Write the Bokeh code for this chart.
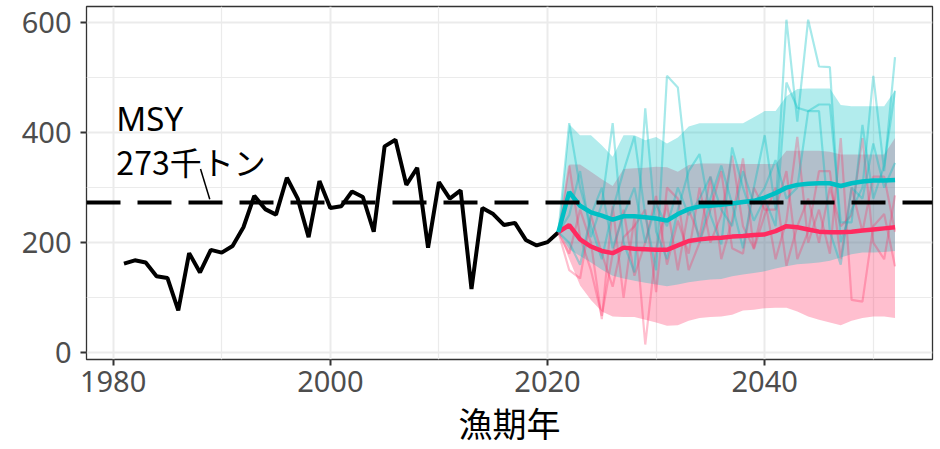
from bokeh.plotting import figure
from bokeh.models import Span, Label, FixedTicker, Range1d
from bokeh.embed import file_html
from bokeh.resources import INLINE

# ---- data ----
hist_years = list(range(1981, 2022))
hist_catch = [162, 168, 164, 139, 136, 77, 181, 146, 187, 182, 194, 228, 285, 261, 251,
              318, 280, 210, 312, 263, 266, 293, 283, 220, 375, 387, 305, 336, 191, 310,
              280, 295, 116, 263, 252, 232, 236, 205, 195, 201, 219]

proj_years = list(range(2021, 2053))

red_median = [219, 232, 206, 193, 185, 181, 191, 189, 188, 187, 187, 195, 203, 206, 208, 209,
              211, 212, 214, 215, 221, 230, 228, 224, 220, 219, 219, 220, 222, 224, 226, 228]
red_lower = [219, 170, 122, 96, 75, 66, 65, 65, 60, 55, 49, 50, 58, 63, 65, 66,
             69, 77, 78, 81, 82, 82, 75, 66, 60, 55, 50, 58, 63, 66, 66, 63]
red_upper = [219, 342, 342, 329, 315, 303, 334, 335, 336, 338, 337, 329, 341, 344, 344, 344,
             343, 343, 343, 343, 343, 367, 367, 367, 367, 365, 360, 360, 360, 360, 360, 390]

cyan_median = [219, 292, 267, 255, 249, 242, 248, 248, 246, 244, 240, 252, 261, 266, 267, 269,
               271, 274, 276, 282, 290, 300, 305, 307, 308, 308, 303, 308, 311, 313, 313, 314]
cyan_lower = [219, 188, 176, 164, 151, 140, 135, 131, 127, 124, 121, 124, 128, 131, 133, 134,
              139, 142, 145, 148, 153, 157, 161, 162, 164, 167, 173, 179, 182, 182, 183, 185]
cyan_upper = [219, 415, 395, 395, 377, 356, 395, 395, 386, 392, 380, 391, 411, 417, 417, 417,
              417, 417, 428, 439, 439, 466, 479, 480, 480, 480, 450, 448, 448, 448, 448, 477]

red_runs = [
    [219, 340, 210, 150, 67, 180, 260, 140, 200, 285, 160, 240, 180, 300, 200, 250,
     358, 230, 190, 280, 170, 240, 392, 200, 260, 180, 390, 96, 93, 230, 252, 157],
    [219, 180, 260, 200, 61, 267, 100, 246, 15, 190, 270, 150, 260, 210, 320, 170,
     240, 353, 188, 250, 300, 158, 230, 280, 200, 300, 230, 250, 390, 200, 170, 286],
    [219, 150, 135, 250, 180, 120, 210, 230, 260, 110, 300, 280, 150, 200, 260, 330,
     190, 180, 300, 260, 260, 330, 170, 220, 330, 330, 170, 300, 220, 320, 320, 220],
]
cyan_runs = [
    [219, 417, 300, 230, 170, 260, 330, 393, 250, 150, 503, 482, 300, 200, 280, 340,
     270, 190, 300, 395, 260, 605, 420, 605, 520, 519, 201, 260, 300, 503, 330, 537],
    [219, 250, 330, 210, 270, 417, 200, 146, 444, 220, 170, 260, 330, 361, 250, 197,
     373, 300, 240, 280, 230, 491, 445, 439, 451, 451, 237, 237, 414, 280, 340, 476],
    [219, 200, 160, 250, 300, 190, 250, 300, 200, 270, 230, 300, 250, 280, 320, 260,
     230, 330, 270, 300, 350, 280, 300, 439, 439, 220, 160, 300, 280, 380, 300, 345],
]

msy = 273
msy_label_lines = ["MSY", "273千トン"]
x_ticks = [1980, 2000, 2020, 2040]
x_minor = [1990, 2010, 2030, 2050]
y_ticks = [0, 200, 400, 600]
y_minor = [100, 300, 500]
x_title = "漁期年"

RED = "#FF2B60"
CYAN = "#00BFC4"
GRID = "#EBEBEB"

p = figure(width=934, height=449, output_backend="svg", toolbar_location=None,
           x_range=Range1d(1977.55, 2055.45), y_range=Range1d(-12.2, 629),
           min_border_left=86, min_border_right=2, min_border_top=6, min_border_bottom=89)
p.background_fill_color = "white"
p.border_fill_color = "white"
p.outline_line_color = "#333333"
p.outline_line_width = 1.3

for ax, ticks, minor in ((p.xaxis[0], x_ticks, x_minor), (p.yaxis[0], y_ticks, y_minor)):
    ax.ticker = FixedTicker(ticks=ticks, minor_ticks=minor)
    ax.axis_line_color = None
    ax.major_tick_line_color = "#333333"
    ax.major_tick_line_width = 2
    ax.major_tick_out = 6
    ax.major_tick_in = 0
    ax.minor_tick_line_color = None
    ax.major_label_text_font = "Noto Sans"
    ax.major_label_text_font_size = "29px"
    ax.major_label_text_color = "#4D4D4D"

p.xaxis.major_label_standoff = 5
p.yaxis.major_label_standoff = 9
p.xaxis.axis_label = x_title
p.xaxis.axis_label_text_font = "Noto Sans CJK JP"
p.xaxis.axis_label_text_font_size = "34px"
p.xaxis.axis_label_text_font_style = "normal"
p.xaxis.axis_label_text_color = "black"
p.xaxis.axis_label_standoff = 3

for g in (p.xgrid[0], p.ygrid[0]):
    g.grid_line_color = GRID
    g.grid_line_width = 2
    g.minor_grid_line_color = GRID
    g.minor_grid_line_width = 1.2

# historical catch
p.line(hist_years, hist_catch, color="black", line_width=4)

# projection bands
p.varea(x=proj_years, y1=red_lower, y2=red_upper, fill_color=RED, fill_alpha=0.3)
p.varea(x=proj_years, y1=cyan_lower, y2=cyan_upper, fill_color=CYAN, fill_alpha=0.3)

# individual runs
for run in red_runs:
    p.line(proj_years, run, color=RED, line_width=2.2, line_alpha=0.3)
for run in cyan_runs:
    p.line(proj_years, run, color=CYAN, line_width=2.2, line_alpha=0.35)

# medians
p.line(proj_years, red_median, color=RED, line_width=4.5)
p.line(proj_years, cyan_median, color=CYAN, line_width=4.5)

# MSY reference line
p.add_layout(Span(location=msy, dimension="width", line_color="black",
                  line_width=4, line_dash="34 17"))

# MSY label with leader
p.segment(x0=[1988.05], y0=[334], x1=[1988.9], y1=[msy + 6], line_color="black", line_width=1.5)
p.add_layout(Label(x=1980.3, y=425, text=msy_label_lines[0], text_font="Noto Sans",
                   text_font_size="33px", text_color="black", text_baseline="alphabetic"))
p.add_layout(Label(x=1980.3, y=348, text=msy_label_lines[1], text_font="Noto Sans CJK JP",
                   text_font_size="32px", text_color="black", text_baseline="alphabetic"))

open("out.html", "w").write(file_html(p, INLINE))
